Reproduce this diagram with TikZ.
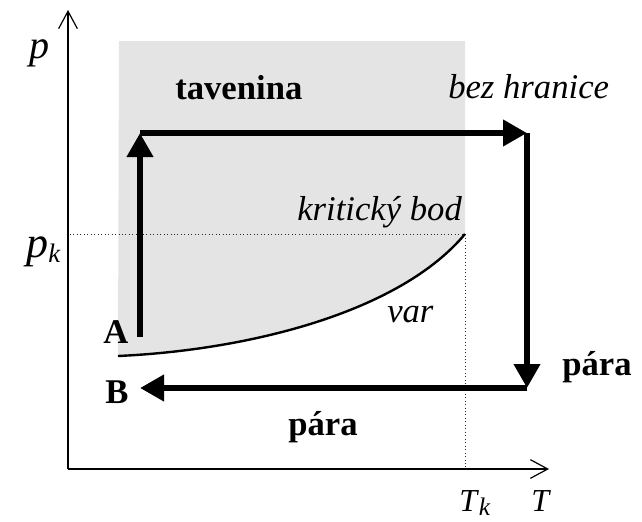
\documentclass[tikz,border=0pt]{standalone}
\usepackage{fontspec}
\setmainfont{Liberation Serif}
\usetikzlibrary{arrows.meta}
\definecolor{LiquidGray}{RGB}{228,228,228}
\definecolor{DotGray}{RGB}{40,40,40}

\begin{document}
\begin{tikzpicture}[x=0.75pt,y=-0.75pt,
    every node/.style={inner sep=0pt,anchor=base west,font=\fontsize{26}{30}\selectfont},
    path arrow/.style={line width=5pt,-{Triangle[length=18pt,width=19pt]}},
    axis/.style={line width=0.9pt,-{Straight Barb[length=13pt,width=14pt]}}]
  \useasboundingbox (0,0) rectangle (642,521);
  % axes and critical point
  \coordinate (origin) at (68,469);
  \coordinate (ytop) at (68,10);
  \coordinate (xend) at (549,469);
  \coordinate (pk) at (70,234);
  \coordinate (crit) at (465,234);
  \coordinate (tk) at (465,469);
  \coordinate (triple) at (118,356);
  % liquid region
  \fill[LiquidGray] (119,41) -- (465,41) -- (crit) .. controls (400,312) and (250,350) .. (triple) -- cycle;
  \draw[dotted, line width=0.6pt, DotGray] (pk) -- (crit) -- (tk);
  \draw[axis] (origin) -- (ytop);
  \draw[axis] (origin) -- (xend);
  \draw[line width=1.8pt] (triple) .. controls (250,350) and (400,312) .. (crit);
  % the path A -> B
  \coordinate (a) at (140,337);
  \coordinate (b) at (140,133);
  \coordinate (c) at (527,133);
  \coordinate (d) at (527,388);
  \coordinate (e) at (140,388);
  \draw[path arrow] (a) -- (b);
  \draw[path arrow] (b) -- (c);
  \draw[path arrow] (c) -- (d);
  \draw[path arrow] (d) -- (e);
  % labels
  \node[font=\fontsize{30}{34}\selectfont] (plabel) at (29,58) {\textit{p}};
  \node[font=\fontsize{33}{38}\selectfont] (pklabel) at (26,257) {\textit{p}\raisebox{-4pt}{\fontsize{20}{22}\selectfont\textit{k}}};
  \node (liquid) at (175,99) {\textbf{tavenina}};
  \node (nobound) at (448,98) {\textit{bez hranice}};
  \node (critlabel) at (297,220) {\textit{kritický bod}};
  \node (boil) at (387,322) {\textit{var}};
  \node (Alabel) at (103,343) {\textbf{A}};
  \node (Blabel) at (105,403) {\textbf{B}};
  \node (vapour1) at (562,375) {\textbf{pára}};
  \node (vapour2) at (288,435) {\textbf{pára}};
  \node[font=\fontsize{24}{28}\selectfont] (tklabel) at (459,511) {\textit{T}\raisebox{-3pt}{\fontsize{19}{21}\selectfont\textit{k}}};
  \node[font=\fontsize{24}{28}\selectfont] (tlabel) at (531,511) {\textit{T}};
\end{tikzpicture}
\end{document}
